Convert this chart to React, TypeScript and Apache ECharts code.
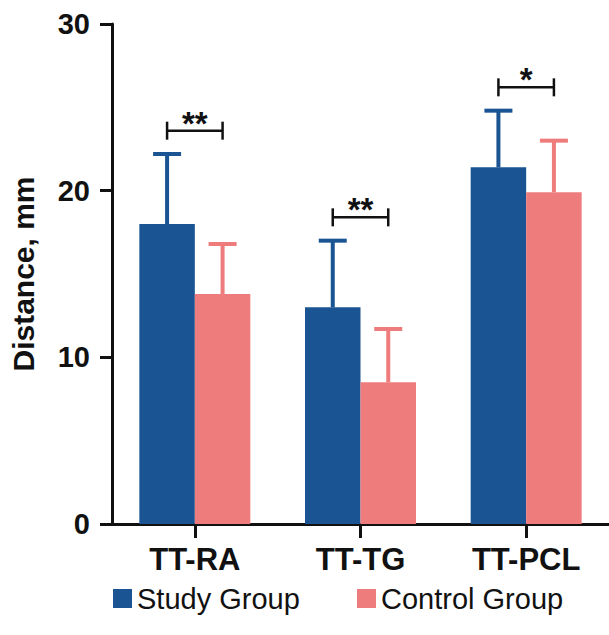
import React, { useEffect, useRef } from "react";
import * as echarts from "echarts";

const categories = ["TT-RA", "TT-TG", "TT-PCL"];
const studyMeans = [18.0, 13.0, 21.4];
const studySD = [4.2, 4.0, 3.4];
const controlMeans = [13.8, 8.5, 19.9];
const controlSD = [3.0, 3.2, 3.1];
const bracketLevels = [23.6, 18.4, 26.2];
const sigLabels = ["**", "**", "*"];
const seriesNames = ["Study Group", "Control Group"];

const BLUE = "#1A5492";
const PINK = "#EF7C7C";
const INK = "#111111";
const FONT = "'Liberation Sans', Arial, Helvetica, sans-serif";
const BAR_FRAC = 0.335;

function errSeries(means: number[], sds: number[], side: number, color: string) {
  return {
    type: "custom",
    name: "err" + side,
    z: 5,
    silent: true,
    data: categories.map((_, i) => [i, means[i], means[i] + sds[i]]),
    encode: { x: 0, y: [1, 2] },
    renderItem: (params: any, api: any) => {
      const i = api.value(0);
      const base = api.coord([i, api.value(1)]);
      const top = api.coord([i, api.value(2)]);
      const band = api.size([1, 0])[0];
      const x = base[0] + (side * band * BAR_FRAC) / 2;
      const capHalf = 14;
      return {
        type: "group",
        children: [
          { type: "line", shape: { x1: x, y1: base[1], x2: x, y2: top[1] }, style: { stroke: color, lineWidth: 4 } },
          { type: "line", shape: { x1: x - capHalf, y1: top[1], x2: x + capHalf, y2: top[1] }, style: { stroke: color, lineWidth: 4 } },
        ],
      };
    },
  };
}

export default function App() {
  const ref = useRef<HTMLDivElement>(null);
  useEffect(() => {
    if (!ref.current) return;
    const chart = echarts.init(ref.current, null, { renderer: "svg" });
    const legendBase = {
      top: 579,
      icon: "rect",
      itemWidth: 19,
      itemHeight: 19,
      itemGap: 12,
      textStyle: { fontSize: 29, color: INK, fontFamily: FONT },
    };
    chart.setOption({
      animation: false,
      backgroundColor: "#ffffff",
      grid: { left: 108, right: 0, top: 24, bottom: 111, containLabel: false },
      legend: [
        { ...legendBase, data: [seriesNames[0]], left: 108 },
        { ...legendBase, data: [seriesNames[1]], left: 352 },
      ],
      xAxis: {
        type: "category",
        data: categories,
        axisLine: { show: true, lineStyle: { color: INK, width: 3 } },
        axisTick: { show: true, alignWithLabel: true, length: 14, lineStyle: { color: INK, width: 3 } },
        axisLabel: { margin: 20, fontSize: 31, fontWeight: "bold", color: INK, fontFamily: FONT },
      },
      yAxis: {
        type: "value",
        min: 0,
        max: 30,
        interval: 10,
        name: "Distance, mm",
        nameLocation: "middle",
        nameGap: 74,
        nameTextStyle: { fontSize: 30, fontWeight: "bold", color: INK, fontFamily: FONT },
        axisLine: { show: true, lineStyle: { color: INK, width: 3 } },
        axisTick: { show: true, length: 12, lineStyle: { color: INK, width: 3 } },
        axisLabel: { margin: 22, fontSize: 29, fontWeight: "bold", color: INK, fontFamily: FONT },
        splitLine: { show: false },
      },
      series: [
        {
          type: "bar",
          name: seriesNames[0],
          data: studyMeans,
          barWidth: BAR_FRAC * 100 + "%",
          barGap: "0%",
          itemStyle: { color: BLUE },
        },
        {
          type: "bar",
          name: seriesNames[1],
          data: controlMeans,
          barWidth: BAR_FRAC * 100 + "%",
          barGap: "0%",
          itemStyle: { color: PINK },
        },
        errSeries(studyMeans, studySD, -1, BLUE),
        errSeries(controlMeans, controlSD, 1, PINK),
        {
          type: "custom",
          name: "sig",
          z: 6,
          silent: true,
          data: categories.map((_, i) => [i, bracketLevels[i]]),
          encode: { x: 0, y: 1 },
          renderItem: (params: any, api: any) => {
            const i = api.value(0);
            const p = api.coord([i, api.value(1)]);
            const band = api.size([1, 0])[0];
            const half = (band * BAR_FRAC) / 2;
            const label = sigLabels[params.dataIndex];
            return {
              type: "group",
              children: [
                { type: "line", shape: { x1: p[0] - half, y1: p[1], x2: p[0] + half, y2: p[1] }, style: { stroke: INK, lineWidth: 2.5 } },
                { type: "line", shape: { x1: p[0] - half, y1: p[1] - 9, x2: p[0] - half, y2: p[1] + 9 }, style: { stroke: INK, lineWidth: 2.5 } },
                { type: "line", shape: { x1: p[0] + half, y1: p[1] - 9, x2: p[0] + half, y2: p[1] + 9 }, style: { stroke: INK, lineWidth: 2.5 } },
                {
                  type: "text",
                  x: p[0],
                  y: p[1] + 9,
                  style: {
                    text: label,
                    fill: INK,
                    fontSize: 33,
                    fontWeight: "bold",
                    fontFamily: FONT,
                    align: "center",
                    verticalAlign: "bottom",
                  },
                },
              ],
            };
          },
        },
      ],
    });
    return () => chart.dispose();
  }, []);
  return (
    <div
      ref={ref}
      style={{ position: "fixed", left: 0, top: 0, width: 609, height: 635, background: "#fff" }}
    />
  );
}
